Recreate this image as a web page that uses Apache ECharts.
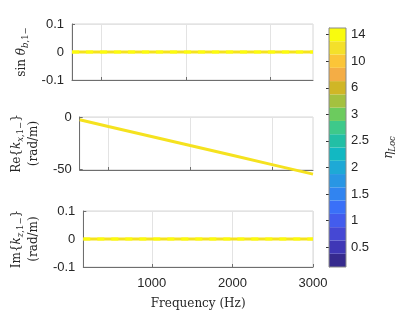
<!DOCTYPE html>
<html><head><meta charset="utf-8">
<script src="https://cdn.jsdelivr.net/npm/echarts@6/dist/echarts.min.js"></script>
<style>html,body{margin:0;padding:0;background:#fff}#c{width:415px;height:312px}</style>
</head><body><div id="c"></div>
<script>
// ---- data ----
const freq = [150, 500, 1000, 1500, 2000, 2500, 3000];
const sinTheta = [0, 0, 0, 0, 0, 0, 0];
const reKx = [-2.7, -9.2, -18.3, -27.5, -36.6, -45.8, -55.0];
const imKz = [0, 0, 0, 0, 0, 0, 0];
const xTicksBottom = [1000, 2000, 3000];
const xTicksUpper = [500, 1500, 2500];
const reTicks = [-50, 0];
const cbarLabels = ['0.5', '1', '1.5', '2', '2.5', '3', '6', '10', '14'];
const cbarColors = ['#362a8e', '#3f37b6', '#4548d4', '#435ced', '#3a70f8', '#3184f0',
  '#2996e4', '#1ea9d6', '#12b8c2', '#22bfa5', '#3ec98a', '#6ccb5e',
  '#a4c13f', '#d0b626', '#f4ad45', '#fbc538', '#f4e02a', '#f9fb0e'];

const TXT = '#262626', AX = '#6e6e6e', GRIDC = '#e3e3e3';
const SANS = 'Liberation Sans', SERIF = 'DejaVu Serif';
const FS = 13;
const rich = {
  n: { fontFamily: SERIF, fontSize: 12, lineHeight: 17, color: TXT },
  i: { fontFamily: SERIF, fontStyle: 'italic', fontSize: 12, lineHeight: 17, color: TXT },
  s: { fontFamily: SERIF, fontSize: 8.5, lineHeight: 8, verticalAlign: 'bottom', color: TXT },
  si: { fontFamily: SERIF, fontStyle: 'italic', fontSize: 8.5, lineHeight: 8, verticalAlign: 'bottom', color: TXT }
};
const nameStyle = { fontFamily: SERIF, fontSize: 12, lineHeight: 17, color: TXT, rich: rich };
const fmt = v => String(Math.round(v * 1000) / 1000);

const grids = [
  { left: 72, top: 24, width: 241, height: 56 },
  { left: 72, top: 117, width: 241, height: 53 },
  { left: 72, top: 211, width: 241, height: 56 },
  { left: 329, top: 28, width: 17, height: 239 }
].map((g, k) => Object.assign({ show: true, z: k === 3 ? 10 : 0, borderColor: k === 3 ? '#8a8a8a' : '#d6d6d6', borderWidth: 1, backgroundColor: 'transparent', containLabel: false }, g));

function xAx(idx, ticks, showLabels) {
  return {
    type: 'value', gridIndex: idx, min: 150, max: 3000,
    axisLine: { show: true, onZero: false, lineStyle: { color: AX, width: 1 } },
    axisTick: { show: true, inside: true, length: 3, customValues: ticks, lineStyle: { color: AX } },
    axisLabel: { show: showLabels, customValues: ticks, color: TXT, fontFamily: SANS, fontSize: FS, margin: 10, formatter: fmt },
    splitLine: { show: true, lineStyle: { color: GRIDC, width: 1 } }
  };
}
function yAx(idx, extra) {
  return Object.assign({
    type: 'value', gridIndex: idx,
    axisLine: { show: true, onZero: false, lineStyle: { color: AX, width: 1 } },
    axisTick: { show: true, inside: true, length: 3, lineStyle: { color: AX } },
    axisLabel: { color: TXT, fontFamily: SANS, fontSize: FS, margin: 8, formatter: fmt },
    splitLine: { show: true, lineStyle: { color: GRIDC, width: 1 } },
    nameLocation: 'middle', nameRotate: 90, nameTextStyle: nameStyle
  }, extra);
}

const xAxes = [
  xAx(0, xTicksUpper, false),
  xAx(1, xTicksUpper, false),
  Object.assign(xAx(2, xTicksBottom, true), {
    name: 'Frequency (Hz)', nameLocation: 'middle', nameGap: 31,
    nameTextStyle: { fontFamily: SERIF, fontSize: 12, color: TXT }
  }),
  { type: 'value', gridIndex: 3, min: 0, max: 1, show: false }
];
const yAxes = [
  yAx(0, { min: -0.1, max: 0.1, interval: 0.1, name: '{n|sin }{i|θ}{si|b}{s|,1−}', nameGap: 38 }),
  yAx(1, { min: -51, max: 0,
    axisLabel: { color: TXT, fontFamily: SANS, fontSize: FS, margin: 8, customValues: reTicks, formatter: fmt },
    axisTick: { show: true, inside: true, length: 3, customValues: reTicks, lineStyle: { color: AX } },
    name: '{n|Re{}{i|k}{si|x}{s|,1−}}\n{n|(rad/m)}', nameGap: 35 }),
  yAx(2, { min: -0.1, max: 0.1, interval: 0.1, name: '{n|Im{}{i|k}{si|z}{s|,1−}}\n{n|(rad/m)}', nameGap: 35 }),
  {
    type: 'category', gridIndex: 3, position: 'right',
    data: cbarColors.map((c, i) => String(i)),
    axisLine: { show: true, lineStyle: { color: '#8a8a8a' } },
    axisTick: { show: true, inside: true, length: 3, alignWithLabel: true, interval: (i) => i % 2 === 1, lineStyle: { color: '#333' } },
    axisLabel: { show: true, interval: (i) => i % 2 === 1, color: TXT, fontFamily: SANS, fontSize: FS, margin: 5,
      formatter: (v, i) => cbarLabels[(i - 1) / 2] },
    splitLine: { show: false },
    name: '{i|η}{si|Loc}', nameLocation: 'middle', nameRotate: 90, nameGap: 34, nameTextStyle: nameStyle
  }
];

function pairs(ys) { return freq.map((f, i) => [f, ys[i]]); }
function yellowLine(idx, ys, dashed) {
  const out = [{
    type: 'line', xAxisIndex: idx, yAxisIndex: idx, data: pairs(ys), symbol: 'none', clip: false,
    lineStyle: { color: '#f5e21f', width: 3 }, z: 5, silent: true
  }];
  if (dashed) out.push({
    type: 'line', xAxisIndex: idx, yAxisIndex: idx, data: pairs(ys), symbol: 'none', clip: false,
    lineStyle: { color: '#fbfb0c', width: 3, type: [7, 7] }, z: 6, silent: true
  });
  return out;
}

const series = [].concat(
  yellowLine(0, sinTheta, true),
  yellowLine(1, reKx, false),
  yellowLine(2, imKz, true),
  [{
    type: 'bar', xAxisIndex: 3, yAxisIndex: 3, barWidth: '100%', barCategoryGap: '0%',
    data: cbarColors.map(c => ({ value: 1, itemStyle: { color: c } })), silent: true, z: 1
  }]
);

const chart = echarts.init(document.getElementById('c'), null, { renderer: 'canvas' });
chart.setOption({
  animation: false, backgroundColor: '#ffffff',
  grid: grids, xAxis: xAxes, yAxis: yAxes, series: series
});
</script></body></html>
